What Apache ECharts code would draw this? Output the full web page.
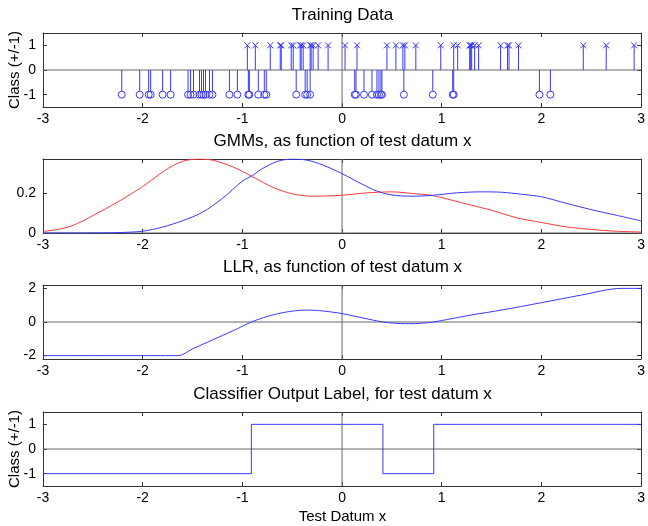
<!DOCTYPE html>
<html>
<head>
<meta charset="utf-8">
<script src="https://cdn.jsdelivr.net/npm/echarts@6/dist/echarts.min.js"></script>
<style>
html, body { margin: 0; padding: 0; background: #fff; }
#main { width: 648px; height: 526px; }
</style>
</head>
<body>
<div id="main"></div>
<script>
// tick values
var xTicks = [-3, -2, -1, 0, 1, 2, 3];
var yTicks1 = [-1, 0, 1];
var yTicks2 = [0, 0.2];
var yTicks3 = [-2, 0, 2];
var yTicks4 = [-1, 0, 1];

// training data: class -1 (circles) and class +1 (crosses)
var trainNeg = [-2.21, -2.03, -1.94, -1.92, -1.80, -1.72, -1.545, -1.52, -1.49, -1.43, -1.41, -1.39,
    -1.37, -1.33, -1.30, -1.13, -1.05, -0.94, -0.93, -0.84, -0.78, -0.76, -0.46, -0.37, -0.35, -0.32,
    0.127, 0.14, 0.22, 0.30, 0.35, 0.37, 0.39, 0.40, 0.62, 0.91, 1.11, 1.12, 1.98, 2.09];
var trainPos = [-0.95, -0.87, -0.72, -0.62, -0.61, -0.51, -0.49, -0.42, -0.41, -0.39, -0.32, -0.31,
    -0.29, -0.24, -0.14, 0.03, 0.15, 0.45, 0.54, 0.61, 0.63, 0.74, 0.99, 1.12, 1.16, 1.28, 1.29,
    1.30, 1.33, 1.37, 1.59, 1.66, 1.675, 1.77, 2.42, 2.65, 2.93];

// GMM densities
var gmmNeg = [[-3, 0.008], [-2.875, 0.016], [-2.75, 0.03], [-2.625, 0.055], [-2.5, 0.088],
    [-2.375, 0.122], [-2.25, 0.157], [-2.125, 0.195], [-2, 0.235], [-1.75, 0.325], [-1.6, 0.362],
    [-1.45, 0.374], [-1.3, 0.368], [-1.1, 0.335], [-0.9, 0.285], [-0.7, 0.232], [-0.5, 0.198],
    [-0.3, 0.186], [0, 0.191], [0.25, 0.203], [0.5, 0.208], [0.7, 0.2], [0.9, 0.19], [1.1, 0.166],
    [1.3, 0.14], [1.5, 0.115], [1.75, 0.077], [2, 0.053], [2.25, 0.031], [2.5, 0.018], [2.75, 0.009],
    [3, 0.005]];
var gmmPos = [[-3, 0], [-2.5, 0.0005], [-2.25, 0.002], [-2, 0.009], [-1.8, 0.03], [-1.6, 0.062],
    [-1.4, 0.105], [-1.2, 0.175], [-1, 0.262], [-0.9, 0.29], [-0.8, 0.325], [-0.65, 0.362],
    [-0.5, 0.374], [-0.35, 0.368], [-0.2, 0.345], [0, 0.3], [0.2, 0.247], [0.35, 0.212], [0.5, 0.192],
    [0.7, 0.186], [0.9, 0.19], [1.15, 0.203], [1.4, 0.208], [1.6, 0.206], [1.8, 0.196], [2, 0.183],
    [2.25, 0.15], [2.5, 0.118], [2.75, 0.09], [3, 0.061]];

// log-likelihood ratio
var llr = [[-3, -2], [-1.645, -2], [-1.5, -1.6], [-1.35, -1.2], [-1.2, -0.8], [-1.05, -0.4],
    [-0.91, 0], [-0.75, 0.33], [-0.6, 0.55], [-0.45, 0.68], [-0.35, 0.71], [-0.2, 0.66], [0, 0.5],
    [0.2, 0.25], [0.41, 0], [0.55, -0.08], [0.7, -0.1], [0.85, -0.05], [0.92, 0], [1.1, 0.2],
    [1.3, 0.42], [1.6, 0.71], [2, 1.15], [2.4, 1.6], [2.8, 2], [3, 2]];

// classifier output label (step changes)
var labelX = [-3, -0.91, 0.41, 0.92, 3];
var labelY = [-1, 1, -1, 1, 1];

var titles = ['Training Data', 'GMMs, as function of test datum x',
    'LLR, as function of test datum x', 'Classifier Output Label, for test datum x'];

var font = '"Liberation Sans", Arial, sans-serif';
var blue = '#3838ff', red = '#ff3838';
var L = 43, W = 599, H = 74;
var tops = [33, 159, 285, 412];
var yRanges = [[-1.5, 1.5], [0, 0.374], [-2.2, 2.2], [-1.5, 1.5]];
var yTickSets = [yTicks1, yTicks2, yTicks3, yTicks4];

var grids = [], xAxes = [], yAxes = [], series = [], graphics = [];

tops.forEach(function (top, i) {
    grids.push({ left: L, top: top, width: W, height: H, show: false });
    var line = { show: true, onZero: false, lineStyle: { color: '#333', width: 1 } };
    var tick = { inside: true, length: 4, lineStyle: { color: '#333' } };
    // bottom x axis with labels, top one only for ticks
    xAxes.push({
        type: 'value', gridIndex: i, position: 'bottom', min: -3, max: 3, interval: 1,
        axisLine: line, splitLine: { show: false }, axisTick: tick,
        axisLabel: { color: '#000', fontFamily: font, fontSize: 14, margin: 5, customValues: xTicks }
    });
    xAxes.push({
        type: 'value', gridIndex: i, position: 'top', min: -3, max: 3, interval: 1,
        axisLine: line, splitLine: { show: false }, axisTick: tick,
        axisLabel: { show: false }
    });
    yAxes.push({
        type: 'value', gridIndex: i, position: 'left', min: yRanges[i][0], max: yRanges[i][1],
        axisLine: line, splitLine: { show: false },
        axisTick: Object.assign({ customValues: yTickSets[i] }, tick),
        axisLabel: { color: '#000', fontFamily: font, fontSize: 14, margin: 7, customValues: yTickSets[i] }
    });
    yAxes.push({
        type: 'value', gridIndex: i, position: 'right', min: yRanges[i][0], max: yRanges[i][1],
        axisLine: line, splitLine: { show: false },
        axisTick: Object.assign({ customValues: yTickSets[i] }, tick),
        axisLabel: { show: false }
    });

    // zero lines through the origin
    series.push({
        type: 'line', xAxisIndex: i * 2, yAxisIndex: i * 2, data: [[-3, 0], [3, 0]],
        symbol: 'none', silent: true, lineStyle: { color: '#666', width: 1 }, z: 1
    });
    series.push({
        type: 'line', xAxisIndex: i * 2, yAxisIndex: i * 2, data: [[0, yRanges[i][0]], [0, yRanges[i][1]]],
        symbol: 'none', silent: true, lineStyle: { color: '#666', width: 1 }, z: 1
    });

    graphics.push({
        type: 'text', x: L + W / 2, y: top - 18,
        style: { text: titles[i], font: '17px ' + font, fill: '#000', align: 'center', verticalAlign: 'middle' }
    });
});

// stem plot of the training data
function stemSeries(xs, cls) {
    return {
        type: 'custom', xAxisIndex: 0, yAxisIndex: 0, z: 3,
        data: xs.map(function (x) { return [x, cls]; }),
        renderItem: function (params, api) {
            var tip = api.coord([api.value(0), api.value(1)]);
            var base = api.coord([api.value(0), 0]);
            var stroke = { stroke: blue, lineWidth: 1, fill: 'none' };
            var mark = cls < 0
                ? { type: 'circle', shape: { cx: tip[0], cy: tip[1], r: 3.5 }, style: stroke }
                : { type: 'group', children: [
                    { type: 'line', shape: { x1: tip[0] - 3, y1: tip[1] - 3, x2: tip[0] + 3, y2: tip[1] + 3 }, style: stroke },
                    { type: 'line', shape: { x1: tip[0] - 3, y1: tip[1] + 3, x2: tip[0] + 3, y2: tip[1] - 3 }, style: stroke }
                ] };
            var stemEnd = cls < 0 ? tip[1] - 3.5 : tip[1];
            return { type: 'group', children: [
                { type: 'line', shape: { x1: base[0], y1: base[1], x2: tip[0], y2: stemEnd }, style: stroke },
                mark
            ] };
        }
    };
}
series.push(stemSeries(trainNeg, -1));
series.push(stemSeries(trainPos, 1));

series.push({
    type: 'line', xAxisIndex: 2, yAxisIndex: 2, data: gmmNeg, smooth: 0.3, symbol: 'none', z: 3,
    lineStyle: { color: red, width: 1 }
});
series.push({
    type: 'line', xAxisIndex: 2, yAxisIndex: 2, data: gmmPos, smooth: 0.3, symbol: 'none', z: 3,
    lineStyle: { color: blue, width: 1 }
});
series.push({
    type: 'line', xAxisIndex: 4, yAxisIndex: 4, data: llr, smooth: 0.3, symbol: 'none', z: 3,
    lineStyle: { color: blue, width: 1 }
});
series.push({
    type: 'line', xAxisIndex: 6, yAxisIndex: 6, step: 'end', symbol: 'none', z: 3,
    data: labelX.map(function (x, k) { return [x, labelY[k]]; }),
    lineStyle: { color: blue, width: 1 }
});

// axis titles
[0, 3].forEach(function (i) {
    graphics.push({
        type: 'text', x: 15, y: tops[i] + H / 2, rotation: Math.PI / 2,
        style: { text: 'Class (+/-1)', font: '15px ' + font, fill: '#000', align: 'center', verticalAlign: 'middle' }
    });
});
graphics.push({
    type: 'text', x: L + W / 2, y: 517,
    style: { text: 'Test Datum x', font: '15px ' + font, fill: '#000', align: 'center', verticalAlign: 'middle' }
});

var myChart = echarts.init(document.getElementById('main'));
myChart.setOption({
    animation: false,
    backgroundColor: '#fff',
    grid: grids,
    xAxis: xAxes,
    yAxis: yAxes,
    series: series,
    graphic: graphics
});
</script>
</body>
</html>
